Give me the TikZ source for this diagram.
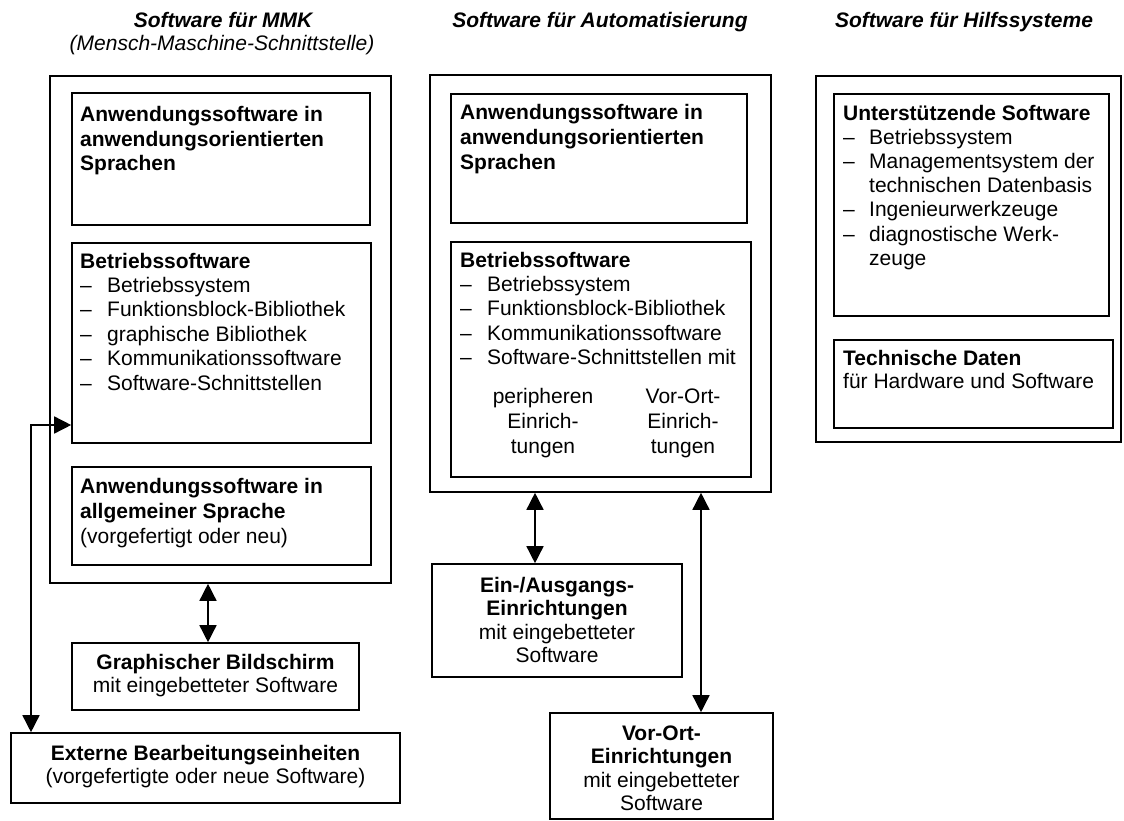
\documentclass[tikz,border=0pt]{standalone}
\usepackage{fontspec}
\setmainfont{Liberation Sans}
\usetikzlibrary{arrows.meta,fit}
% dash with hanging indent for the list items
\newcommand\dsh{\makebox[27pt][l]{–}}
\newcommand\dshr{\makebox[26pt][l]{–}}
\begin{document}
\begin{tikzpicture}[x=1pt,y=-1pt,
  frame/.style={draw, line width=1.6pt, inner sep=0pt},
  % multi-line texts are anchored at the baseline of their last line
  txt/.style={inner sep=0pt, anchor=base west, align=left, font=\fontsize{21}{24.4}\selectfont},
  btxt/.style={txt, font=\fontsize{21}{24.6}\selectfont\bfseries},
  ctxt/.style={inner sep=0pt, anchor=base, align=center, font=\fontsize{21}{23.6}\selectfont},
  title/.style={inner sep=0pt, anchor=base, align=center, font=\fontsize{21}{24}\selectfont\bfseries\itshape},
  subtitle/.style={inner sep=0pt, anchor=base, font=\fontsize{21}{24}\selectfont\itshape},
  link/.style={line width=1.5pt, {Triangle[length=17pt,width=17pt]}-{Triangle[length=17pt,width=17pt]}},
]
\useasboundingbox (0,0) rectangle (1124,821);

% column titles
\node[title] (t1) at (223,28) {Software für MMK};
\node[subtitle] (t1s) at (222,51) {(Mensch-Maschine-Schnittstelle)};
\node[title] (t2) at (600,28) {Software für Automatisierung};
\node[title] (t3) at (964,28) {Software für Hilfssysteme};

% --- MMK column ---
\node[frame, fit={(50,76) (391,583)}] (mmk) {};
\node[frame, fit={(72,93) (370,225)}] (a1) {};
\node[frame, fit={(72,243) (371,443)}] (a2) {};
\node[frame, fit={(72,467) (371,565)}] (a3) {};
\node[frame, fit={(72,643) (359,710)}] (gb) {};
\node[frame, fit={(11,733) (400,803)}] (ext) {};

\node[btxt] (a1t) at (80,171) {Anwendungssoftware in\\anwendungsorientierten\\Sprachen};
\node[txt] (a2t) at (80,390) {\textbf{Betriebssoftware}\\\dsh Betriebssystem\\\dsh Funktionsblock-Bibliothek\\\dsh graphische Bibliothek\\\dsh Kommunikationssoftware\\\dsh Software-Schnittstellen};
\node[txt, font=\fontsize{21}{25}\selectfont] (a3t) at (80,543) {\textbf{Anwendungssoftware in}\\\textbf{allgemeiner Sprache}\\(vorgefertigt oder neu)};
\node[ctxt] (gbt) at (215.5,692.6) {\textbf{Graphischer Bildschirm}\\mit eingebetteter Software};
\node[ctxt] (extt) at (205.5,783.6) {\textbf{Externe Bearbeitungseinheiten}\\(vorgefertigte oder neue Software)};

% --- automation column ---
\node[frame, fit={(430,75) (771,492)}] (auto) {};
\node[frame, fit={(451,94) (747,223)}] (b1) {};
\node[frame, fit={(451,242) (751,477)}] (b2) {};
\node[frame, fit={(432,564) (682,677)}] (eab) {};
\node[frame, fit={(550,713) (773,819)}] (vob) {};

\node[btxt] (b1t) at (460,169.2) {Anwendungssoftware in\\anwendungsorientierten\\Sprachen};
\node[txt] (b2t) at (460,364.6) {\textbf{Betriebssoftware}\\\dsh Betriebssystem\\\dsh Funktionsblock-Bibliothek\\\dsh Kommunikationssoftware\\\dsh Software-Schnittstellen mit};
\node[ctxt, font=\fontsize{21}{25}\selectfont] (b2p) at (543,453) {peripheren\\Einrich-\\tungen};
\node[ctxt, font=\fontsize{21}{25}\selectfont] (b2v) at (683,453) {Vor-Ort-\\Einrich-\\tungen};
\node[ctxt] (eabt) at (557,662.8) {\textbf{Ein-/Ausgangs-}\\\textbf{Einrichtungen}\\mit eingebetteter\\Software};
\node[ctxt] (vobt) at (661.5,810.8) {\textbf{Vor-Ort-}\\\textbf{Einrichtungen}\\mit eingebetteter\\Software};

% --- auxiliary systems column ---
\node[frame, fit={(816,76) (1121,442)}] (hilf) {};
\node[frame, fit={(834,94) (1109,316)}] (c1) {};
\node[frame, fit={(834,340) (1113,428)}] (c2) {};

\node[txt, font=\fontsize{21}{24.2}\selectfont] (c1t) at (843,265.2) {\textbf{Unterstützende Software}\\\dshr Betriebssystem\\\dshr Managementsystem der\\\hspace*{26pt}technischen Datenbasis\\\dshr Ingenieurwerkzeuge\\\dshr diagnostische Werk-\\\hspace*{26pt}zeuge};
\node[txt, font=\fontsize{21}{23.5}\selectfont] (c2t) at (843,388.5) {\textbf{Technische Daten}\\für Hardware und Software};

% --- connectors ---
\coordinate (ax1) at (208,0);
\coordinate (ax2) at (535,0);
\coordinate (ax3) at (701,0);
\coordinate (bend) at (31,425);
\draw[link] (mmk.south -| ax1) -- (gb.north -| ax1);
\draw[link] (auto.south -| ax2) -- (eab.north -| ax2);
\draw[link] (auto.south -| ax3) -- (vob.north -| ax3);
\draw[link] (ext.north -| bend) -- (bend) -- (a2.west |- bend);
\end{tikzpicture}
\end{document}
